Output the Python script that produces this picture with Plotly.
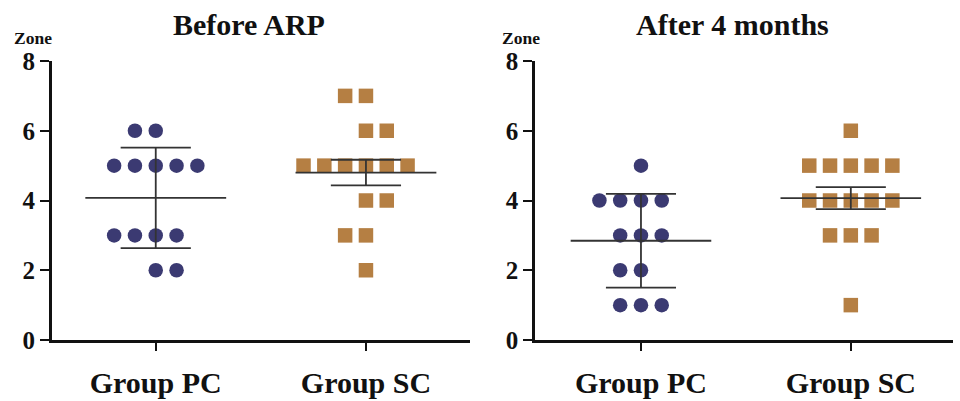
import numpy as np
import plotly.graph_objects as go

# ---------------- data ----------------
categories = ["Group PC", "Group SC"]
panel_titles = ["Before ARP", "After 4 months"]
y_ticks = [0, 2, 4, 6, 8]

before_pc = [6, 6, 5, 5, 5, 5, 5, 3, 3, 3, 3, 2, 2]
before_sc = [7, 7, 6, 6, 5, 5, 5, 5, 5, 5, 4, 4, 3, 3, 2]
after_pc = [5, 4, 4, 4, 4, 3, 3, 3, 2, 2, 1, 1, 1]
after_sc = [6, 5, 5, 5, 5, 5, 4, 4, 4, 4, 4, 3, 3, 3, 1]

# error bar kind as drawn in the figure
err_before = ["sd", "sem"]
err_after = ["sd", "sem"]

# ---------------- style / layout ----------------
PC_COLOR = "#3b3a72"
SC_COLOR = "#b57f43"
LINE_COLOR = "#333333"
FONT = "Liberation Serif"
SLOT = 0.099
MEAN_HW = 0.335
CAP_HW = 0.167

lean = {
    ("before", 0): {6: -1, 3: -1, 2: 1},
    ("before", 1): {7: -1, 6: 1, 5: -1, 4: 1, 3: -1},
    ("after", 0): {4: -1, 2: -1},
    ("after", 1): {},
}


def swarm_x(values, center, lean_map):
    xs = []
    vals = np.array(values)
    for v in sorted(set(values), reverse=True):
        k = int((vals == v).sum())
        offs = [i - (k - 1) / 2 for i in range(k)]
        if k % 2 == 0:
            offs = [o + 0.5 * lean_map.get(v, -1) for o in offs]
        for o in offs:
            xs.append((v, center + o * SLOT))
    return [p[1] for p in xs], [p[0] for p in xs]


fig = go.Figure()

panels = [
    ("before", [before_pc, before_sc], err_before, "x", "y"),
    ("after", [after_pc, after_sc], err_after, "x2", "y2"),
]

for pname, groups, errs, xa, ya in panels:
    for gi, (vals, ek) in enumerate(zip(groups, errs)):
        xs, ys = swarm_x(vals, gi, lean[(pname, gi)])
        fig.add_trace(go.Scatter(
            x=xs, y=ys, mode="markers", xaxis=xa, yaxis=ya,
            marker=dict(symbol="circle" if gi == 0 else "square",
                        size=14.5,
                        color=PC_COLOR if gi == 0 else SC_COLOR,
                        line=dict(width=0)),
            cliponaxis=False, showlegend=False, hoverinfo="y"))
        arr = np.array(vals, dtype=float)
        m = arr.mean()
        sd = arr.std(ddof=1)
        e = sd if ek == "sd" else sd / np.sqrt(len(arr))
        lx = [gi - MEAN_HW, gi + MEAN_HW, None,
              gi - CAP_HW, gi + CAP_HW, None,
              gi - CAP_HW, gi + CAP_HW, None,
              gi, gi]
        ly = [m, m, None, m + e, m + e, None, m - e, m - e, None, m + e, m - e]
        fig.add_trace(go.Scatter(
            x=lx, y=ly, mode="lines", xaxis=xa, yaxis=ya,
            line=dict(color=LINE_COLOR, width=1.8),
            cliponaxis=False, showlegend=False, hoverinfo="skip"))

W, H = 960, 401


def px_x(x):
    return x / W


def px_y(y):
    return 1 - y / H


left_dom = [px_x(51.7), px_x(470)]
right_dom = [px_x(535), px_x(953)]
y_dom = [px_y(340), px_y(61)]

xaxis_common = dict(
    tickvals=[0, 1], ticktext=categories, automargin=False,
    showline=True, linewidth=2.6, linecolor="#111111",
    ticks="outside", ticklen=8, tickwidth=2.4, tickcolor="#111111",
    ticklabelstandoff=6,
    showgrid=False, zeroline=False, fixedrange=True,
    tickfont=dict(family=FONT, size=30, color="#111111", weight="bold"),
)
yaxis_common = dict(
    range=[0, 8], tickvals=y_ticks, automargin=False,
    showline=True, linewidth=2.6, linecolor="#111111",
    ticks="outside", ticklen=9, tickwidth=2.4, tickcolor="#111111",
    showgrid=False, zeroline=False, fixedrange=True,
    tickfont=dict(family=FONT, size=25, color="#111111", weight="bold"),
)

fig.update_layout(
    width=W, height=H, autosize=False,
    margin=dict(l=0, r=0, t=0, b=0, pad=0, autoexpand=False),
    paper_bgcolor="white", plot_bgcolor="white",
    xaxis=dict(domain=left_dom, anchor="y", range=[-0.495, 1.495], **xaxis_common),
    yaxis=dict(domain=y_dom, anchor="x", **yaxis_common),
    xaxis2=dict(domain=right_dom, anchor="y2", range=[-0.505, 1.487], **xaxis_common),
    yaxis2=dict(domain=y_dom, anchor="x2", **yaxis_common),
    showlegend=False,
)

annots = [
    (249, 24, panel_titles[0], 30),
    (732.5, 24, panel_titles[1], 30),
    (33, 37.5, "Zone", 17.5),
    (521, 37.5, "Zone", 17.5),
]
for x, y, t, s in annots:
    fig.add_annotation(x=px_x(x), y=px_y(y), xref="paper", yref="paper", text=t,
                       showarrow=False, xanchor="center", yanchor="middle",
                       font=dict(family=FONT, size=s, color="#111111",
                                 weight="bold"))

fig.write_html(
    "out.html",
    config={"displayModeBar": False, "staticPlot": False},
    post_script="document.body.style.margin='0';document.body.style.overflow='hidden';",
)
